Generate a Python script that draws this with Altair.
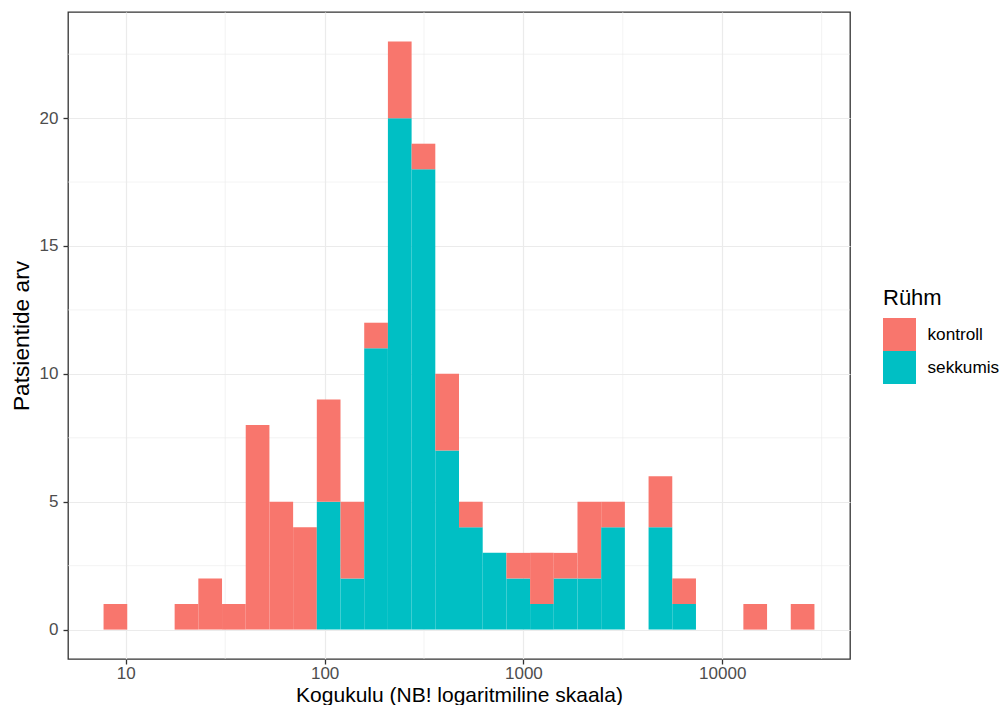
import altair as alt
import pandas as pd

# ---- data ----
groups = ["kontroll", "sekkumis"]
colors = ["#F8766D", "#00BFC4"]
# counts per histogram bin (30 bins on log10 scale)
kontroll = [1, 0, 0, 1, 2, 1, 8, 5, 4, 4, 3, 1, 3, 1, 3, 1, 0, 1, 2, 1, 3, 1, 0, 2, 1, 0, 0, 1, 0, 1]
sekkumis = [0, 0, 0, 0, 0, 0, 0, 0, 0, 5, 2, 11, 20, 18, 7, 4, 3, 2, 1, 2, 2, 4, 0, 4, 1, 0, 0, 0, 0, 0]
log_first_edge = 0.888
log_bin_width = 0.1192
x_ticks = [10, 100, 1000, 10000]
x_minor = [31.62, 316.2, 3162, 31623]
y_ticks = [0, 5, 10, 15, 20]
y_minor = [2.5, 7.5, 12.5, 17.5, 22.5]

# stacked table: sekkumis at the bottom, kontroll on top
rows = []
for i, (k, s) in enumerate(zip(kontroll, sekkumis)):
    lo = 10 ** (log_first_edge + i * log_bin_width)
    hi = 10 ** (log_first_edge + (i + 1) * log_bin_width)
    rows.append({"lo": lo, "hi": hi, "n0": 0, "n1": s, "Rühm": "sekkumis"})
    rows.append({"lo": lo, "hi": hi, "n0": s, "n1": s + k, "Rühm": "kontroll"})
df = pd.DataFrame(rows)
df = df[df["n1"] > df["n0"]]

nbins = len(kontroll)
lmin = log_first_edge
lmax = log_first_edge + nbins * log_bin_width
ex = 0.05 * (lmax - lmin)
xdom = [10 ** (lmin - ex), 10 ** (lmax + ex)]
ymax = max(k + s for k, s in zip(kontroll, sekkumis))
ydom = [-0.05 * ymax, ymax * 1.05]

xs = alt.Scale(type="log", domain=xdom, nice=False)
ys = alt.Scale(domain=ydom, nice=False, zero=False)
FONT = "Liberation Sans"

xaxis = alt.Axis(values=x_ticks, format="d", title="Kogukulu (NB! logaritmiline skaala)",
                 titleY=42.3, titleBaseline="alphabetic", titleFontSize=21, labelPadding=1)
yaxis = alt.Axis(values=y_ticks, title="Patsientide arv", titleX=-40, titleY=323.5,
                 titleBaseline="alphabetic", titleAngle=270, labelPadding=5)

vminor = alt.Chart(pd.DataFrame({"lo": x_minor})).mark_rule(color="#EBEBEB", strokeWidth=0.6).encode(
    x=alt.X("lo:Q", scale=xs, axis=xaxis)
)
hminor = alt.Chart(pd.DataFrame({"n0": y_minor})).mark_rule(color="#EBEBEB", strokeWidth=0.6).encode(
    y=alt.Y("n0:Q", scale=ys, axis=yaxis)
)

bars = alt.Chart(df).mark_bar(strokeWidth=0).encode(
    x=alt.X("lo:Q", scale=xs, axis=xaxis),
    x2="hi:Q",
    y=alt.Y("n0:Q", scale=ys, axis=yaxis),
    y2="n1:Q",
    color=alt.Color("Rühm:N", scale=alt.Scale(domain=groups, range=colors),
                    legend=alt.Legend(title="Rühm", orient="none", legendX=815, legendY=275.7,
                                      symbolType="square", symbolSize=1089, symbolStrokeWidth=0,
                                      rowPadding=0, labelOffset=11.5, titlePadding=8.3, padding=0)),
)

chart = alt.layer(vminor, hminor, bars).properties(
    width=782, height=647,
    autosize=alt.AutoSizeParams(type="none"),
    padding={"left": 60, "top": 4, "right": 150, "bottom": 46},
).configure_view(
    stroke="#333333", strokeWidth=1.3
).configure_axis(
    grid=True, gridColor="#EBEBEB", gridWidth=1.2, domain=False,
    tickColor="#333333", tickSize=5, tickWidth=1.3,
    labelColor="#4D4D4D", labelFont=FONT, labelFontSize=17,
    titleFont=FONT, titleFontSize=22.7, titleFontWeight="normal", titleColor="black",
).configure_legend(
    labelFont=FONT, labelFontSize=17.2, labelColor="black",
    titleFont=FONT, titleFontSize=22, titleFontWeight="normal", titleColor="black",
)

chart.save("out.html", embed_options={"renderer": "svg", "actions": False})
